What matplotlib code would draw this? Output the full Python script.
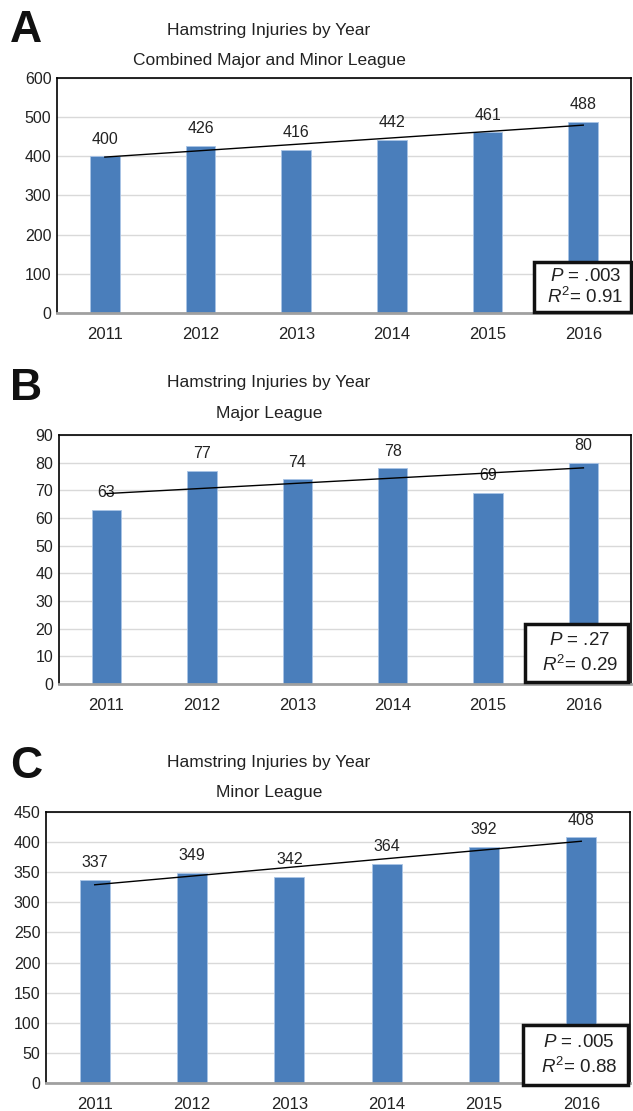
import numpy as np
import matplotlib
matplotlib.use("Agg")
import matplotlib.pyplot as plt
from matplotlib.patches import Rectangle

plt.rcParams['font.family'] = ['Liberation Sans', 'DejaVu Sans']
plt.rcParams['mathtext.fontset'] = 'custom'
plt.rcParams['mathtext.rm'] = 'Liberation Sans'
plt.rcParams['mathtext.it'] = 'Liberation Sans:italic'

years = ['2011', '2012', '2013', '2014', '2015', '2016']
combined = [400, 426, 416, 442, 461, 488]
major = [63, 77, 74, 78, 69, 80]
minor = [337, 349, 342, 364, 392, 408]

titles = ['Combined Major and Minor League', 'Major League', 'Minor League']
letters = ['A', 'B', 'C']
p_vals = ['.003', '.27', '.005']
r2_vals = ['0.91', '0.29', '0.88']
ymax = [600, 90, 450]
ystep = [100, 10, 50]

bar_color = '#4a7ebb'

fig = plt.figure(figsize=(6.33, 11.11), dpi=100)

# axes rects [left, bottom, width, height] in figure fraction
rects = [[0.090, 0.7183, 0.907, 0.2115],
         [0.093, 0.3843, 0.904, 0.2241],
         [0.0727, 0.0252, 0.9225, 0.2439]]
# stats box rects in axes fraction
boxes = [[0.831, 0.004, 0.169, 0.213],
         [0.815, 0.008, 0.180, 0.233],
         [0.817, -0.007, 0.180, 0.221]]
title_y = [(30, 60), (383, 413), (762, 793)]
letter_y = [30, 388, 766]

for i, data in enumerate([combined, major, minor]):
    ax = fig.add_axes(rects[i])
    x = np.arange(len(years))
    ax.bar(x, data, width=0.31, color=bar_color, edgecolor='#a9c4e6', linewidth=0.6, zorder=2)
    for xi, v in zip(x, data):
        ax.annotate(str(v), (xi, v), xytext=(0, 7), textcoords='offset points',
                    ha='center', va='bottom', fontsize=11.5, color='#222222')
    # linear trendline
    k, b = np.polyfit(x, data, 1)
    ax.plot([x[0], x[-1]], [k * x[0] + b, k * x[-1] + b], color='black', lw=1, zorder=3)

    ax.set_xlim(-0.5, len(years) - 0.5)
    ax.set_ylim(0, ymax[i])
    ax.set_yticks(np.arange(0, ymax[i] + 1, ystep[i]))
    ax.set_xticks(x)
    ax.set_xticklabels(years)
    ax.tick_params(length=0, labelsize=11.5, colors='#222222')
    ax.tick_params(axis='x', labelsize=12, pad=10)
    ax.tick_params(axis='y', pad=4)
    ax.grid(axis='y', color='#d9d9d9', lw=1, zorder=0)
    ax.set_axisbelow(True)
    for s in ['left', 'top', 'right']:
        ax.spines[s].set_color('black')
        ax.spines[s].set_linewidth(1.2)
    ax.spines['bottom'].set_color('#a0a0a0')
    ax.spines['bottom'].set_linewidth(2)

    bx, by, bw, bh = boxes[i]
    ax.add_patch(Rectangle((bx, by), bw, bh, transform=ax.transAxes, facecolor='white',
                           edgecolor='#111111', lw=2.5, zorder=5, clip_on=False))
    ax.text(bx + bw * 0.53, by + bh * 0.71, r'$\mathit{P}$ = ' + p_vals[i], transform=ax.transAxes,
            ha='center', va='center', fontsize=13.5, zorder=6, color='#222222')
    ax.text(bx + bw * 0.53, by + bh * 0.30, r'$\mathit{R}^{2}$= ' + r2_vals[i], transform=ax.transAxes,
            ha='center', va='center', fontsize=13.5, zorder=6, color='#222222')

    fig.text(269 / 633, 1 - title_y[i][0] / 1111, 'Hamstring Injuries by Year',
             ha='center', va='center', fontsize=12.5, color='#222222')
    fig.text(269 / 633, 1 - title_y[i][1] / 1111, titles[i],
             ha='center', va='center', fontsize=12.5, color='#222222')
    fig.text(10 / 633, 1 - letter_y[i] / 1111, letters[i], ha='left', va='center',
             fontsize=32, fontweight='bold', color='#111111')

fig.savefig('out.png', dpi=100)
